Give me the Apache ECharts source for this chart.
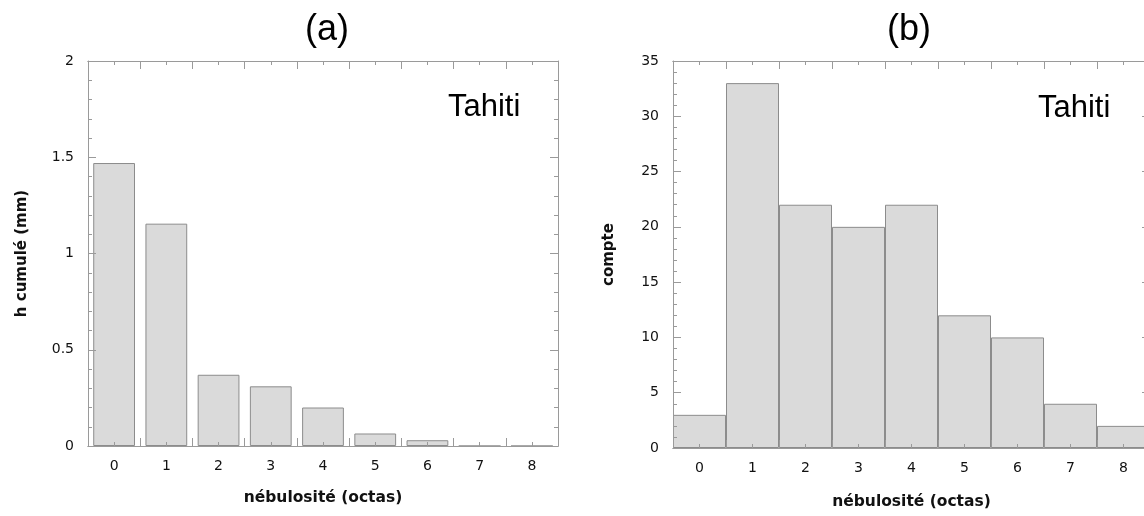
<!DOCTYPE html>
<html>
<head>
<meta charset="utf-8">
<script src="https://cdn.jsdelivr.net/npm/echarts@6/dist/echarts.min.js"></script>
<style>html,body{margin:0;padding:0;background:#fff}#c{width:1144px;height:516px}</style>
</head>
<body>
<div id="c"></div>
<script>
// ---- data ----
const categories = ['0','1','2','3','4','5','6','7','8'];
const cumulHeight = [1.47, 1.155, 0.37, 0.31, 0.2, 0.065, 0.03, 0, 0];
const counts = [3, 33, 22, 20, 22, 12, 10, 4, 2];
const panelTitles = ['(a)', '(b)'];
const stationLabel = 'Tahiti';
const xName = 'nébulosité (octas)';
const yNameA = 'h cumulé (mm)';
const yNameB = 'compte';

const axisGray = '#9a9a9a';
const textCol = '#111';
const tickFont = 'DejaVu Sans';

function xAxes(grid, pos, withLabel, showName, nameGap) {
  return [
    { gridIndex: grid, type: 'category', data: categories, position: pos, z: 5,
      axisLine: { lineStyle: { color: axisGray, width: 1 } },
      axisTick: { show: true, inside: true, length: 8, lineStyle: { color: axisGray } },
      axisLabel: { show: withLabel, margin: 13, color: textCol, fontFamily: tickFont, fontSize: 14 },
      name: showName ? xName : '', nameLocation: 'middle', nameGap: nameGap,
      nameTextStyle: { color: textCol, fontFamily: tickFont, fontWeight: 'bold', fontSize: 15.5 },
      splitLine: { show: false } },
    { gridIndex: grid, type: 'category', data: categories, position: pos, z: 5,
      axisLine: { lineStyle: { color: axisGray, width: 1 } },
      axisTick: { show: true, inside: true, length: 4, alignWithLabel: true, lineStyle: { color: axisGray } },
      axisLabel: { show: false }, splitLine: { show: false } }
  ];
}

function yAxes(grid, max, interval, name, nameGap) {
  const common = {
    gridIndex: grid, type: 'value', min: 0, max: max, interval: interval, z: 5,
    axisLine: { show: true, lineStyle: { color: axisGray, width: 1 } },
    axisTick: { show: true, inside: true, length: 8, lineStyle: { color: axisGray } },
    minorTick: { show: true, splitNumber: 5, length: 4, lineStyle: { color: axisGray } },
    splitLine: { show: false }, minorSplitLine: { show: false }
  };
  return [
    Object.assign({}, common, { position: 'left',
      axisLabel: { show: true, margin: 14, color: textCol, fontFamily: tickFont, fontSize: 14 },
      name: name, nameLocation: 'middle', nameGap: nameGap,
      nameTextStyle: { color: textCol, fontFamily: tickFont, fontWeight: 'bold', fontSize: 15 } }),
    Object.assign({}, common, { position: 'right', axisLabel: { show: false } })
  ];
}

const chart = echarts.init(document.getElementById('c'), null, { renderer: 'canvas' });
chart.setOption({
  animation: false,
  backgroundColor: '#fff',
  grid: [
    { left: 88, top: 61, width: 470, height: 385, outerBoundsMode: 'none', containLabel: false },
    { left: 673, top: 61, width: 477, height: 387, outerBoundsMode: 'none', containLabel: false }
  ],
  xAxis: [].concat(
    xAxes(0, 'bottom', true, true, 44), xAxes(0, 'top', false, false, 0),
    xAxes(1, 'bottom', true, true, 46), xAxes(1, 'top', false, false, 0)
  ),
  yAxis: [].concat(
    yAxes(0, 2, 0.5, yNameA, 58),
    yAxes(1, 35, 5, yNameB, 56)
  ),
  series: [
    { type: 'bar', xAxisIndex: 0, yAxisIndex: 0, data: cumulHeight,
      barCategoryGap: '20%',
      itemStyle: { color: '#dadada', borderColor: '#8c8c8c', borderWidth: 1 } },
    { type: 'bar', xAxisIndex: 4, yAxisIndex: 2, data: counts,
      barCategoryGap: '0%',
      itemStyle: { color: '#dadada', borderColor: '#8c8c8c', borderWidth: 1 } }
  ],
  graphic: [
    { type: 'text', z: 10, style: { text: panelTitles[0], x: 327, y: 30, textAlign: 'center', textVerticalAlign: 'middle',
      font: '36px "Liberation Sans"', fill: '#000' } },
    { type: 'text', z: 10, style: { text: panelTitles[1], x: 909, y: 30, textAlign: 'center', textVerticalAlign: 'middle',
      font: '36px "Liberation Sans"', fill: '#000' } },
    { type: 'text', z: 10, style: { text: stationLabel, x: 448, y: 107, textAlign: 'left', textVerticalAlign: 'middle',
      font: '31px "Liberation Sans"', fill: '#000' } },
    { type: 'text', z: 10, style: { text: stationLabel, x: 1038, y: 108, textAlign: 'left', textVerticalAlign: 'middle',
      font: '31px "Liberation Sans"', fill: '#000' } }
  ]
});
</script>
</body>
</html>
